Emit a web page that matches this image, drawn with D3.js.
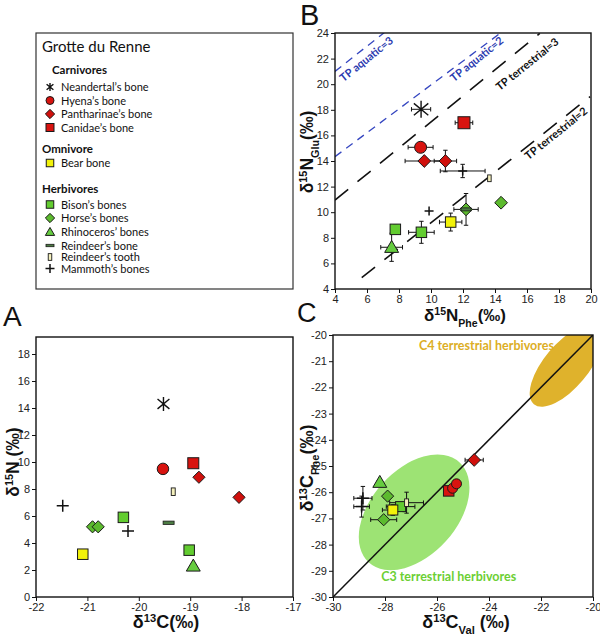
<!DOCTYPE html>
<html><head><meta charset="utf-8">
<script src="https://cdn.jsdelivr.net/npm/d3@7"></script>
<style>body{margin:0;background:#fff}</style>
</head><body><svg id="c" width="600" height="639"></svg>
<script>
// ---------------- DATA ----------------
// Legend
const legendSpecies = ['neandertal','hyena','pantharinae','canidae','bear','bison','horse','rhino','reindeerBone','reindeerTooth','mammoth'];
const legendLabels = ["Neandertal’s bone","Hyena’s bone","Pantharinae’s bone","Canidae’s bone","Bear bone","Bison’s bones","Horse’s bones","Rhinoceros’ bones","Reindeer’s bone","Reindeer’s tooth","Mammoth’s bones"];
const legendGroups = ['Carnivores','Omnivore','Herbivores'];

// Panel A: bulk collagen
const aSpecies = ['neandertal','hyena','canidae','pantharinae','pantharinae','reindeerTooth','mammoth','bison','reindeerBone','horse','horse','mammoth','bison','bear','rhino'];
const aD13C = [-19.52,-19.53,-18.94,-18.83,-18.05,-19.33,-21.48,-20.3,-19.42,-20.9,-20.79,-20.21,-19.02,-21.09,-18.94];
const aD15N = [14.3,9.49,9.91,8.87,7.38,7.8,6.76,5.9,5.5,5.2,5.2,4.88,3.47,3.17,2.3];
const aXTicks = [-22,-21,-20,-19,-18,-17];
const aYTicks = [0,2,4,6,8,10,12,14,16,18];

// Panel B: amino acid nitrogen
const bSpecies = ['neandertal','canidae','hyena','pantharinae','pantharinae','mammoth','reindeerTooth','horse','horse','reindeerBone','mammoth','bear','bison','bison','rhino'];
const bPhe = [9.38,12.06,9.35,9.58,10.9,11.98,13.65,14.38,12.19,12.19,9.88,11.23,9.4,7.77,7.54];
const bGlu = [18.04,16.99,15.07,14.0,14.0,13.22,12.65,10.74,10.22,10.22,10.09,9.23,8.43,8.66,7.26];
const bPheErr = [0.6,0.55,0.78,1.2,0.7,1.4,0,0,0.76,0,0,0.7,0.8,0,0.68];
const bGluErr = [0,0,0,0,0.84,0.52,0,0,1.24,0,0,0.7,0.86,0.35,1.1];
const bXTicks = [4,6,8,10,12,14,16,18,20];
const bYTicks = [4,6,8,10,12,14,16,18,20,22,24];
// Trophic position lines (endpoints in data units)
const tpNames = ['TP aquatic=3','TP aquatic=2','TP terrestrial=3','TP terrestrial=2'];
const tpKind = ['aquatic','aquatic','terrestrial','terrestrial'];
const tpX1 = [4,4,4,5.67];
const tpY1 = [21.0,14.34,10.95,4.88];
const tpX2 = [7.1,14.4,16.8,19.94];
const tpY2 = [24.05,24.05,23.97,19.03];
const tpLabelX = [6.0,12.9,16.05,17.85];
const tpLabelY = [21.9,21.9,21.5,16.1];

// Panel C: amino acid carbon
const cSpecies = ['mammoth','mammoth','rhino','horse','horse','bison','bear','reindeerTooth','canidae','hyena','hyena','pantharinae'];
const cVal = [-28.85,-28.9,-28.2,-27.9,-28.05,-27.4,-27.7,-27.17,-25.55,-25.4,-25.25,-24.57];
const cPhe = [-26.23,-26.55,-25.62,-26.15,-27.05,-26.55,-26.68,-26.4,-25.95,-25.85,-25.68,-24.77];
const cValErr = [0.35,0.3,0.1,0.15,0.5,0.55,0.4,0.65,0,0,0,0.35];
const cPheErr = [0.45,0.4,0.1,0.1,0.1,0.15,0.2,0.4,0,0,0,0.1];
const cXTicks = [-30,-28,-26,-24,-22,-20];
const cYTicks = [-30,-29,-28,-27,-26,-25,-24,-23,-22,-21,-20];
// Ellipses: [centerVal, centerPhe, semi-major, semi-minor (data units), angle deg]
const c3Ellipse = [-26.88,-26.77,2.6,1.65,48];
const c4Ellipse = [-21.04,-21.18,1.92,0.85,50];

// ---------------- STYLES ----------------
const STY = {
  neandertal:{shape:'asterisk'},
  hyena:{shape:'circle',fill:'#d8130f'},
  pantharinae:{shape:'diamond',fill:'#d0100c'},
  canidae:{shape:'square',fill:'#d8130f'},
  bear:{shape:'square',fill:'#f2f20a'},
  bison:{shape:'square',fill:'#62cc30'},
  horse:{shape:'diamond',fill:'#5cba2e'},
  rhino:{shape:'triangle',fill:'#66cc40'},
  reindeerBone:{shape:'dash',fill:'#4c7c43'},
  reindeerTooth:{shape:'tooth',fill:'#f4f0bc'},
  mammoth:{shape:'plus'}
};
const SANS = "'Liberation Sans', Arial, sans-serif";
const HUM = "Lato, 'Open Sans', sans-serif";

const svg = d3.select('#c');
svg.append('rect').attr('width',600).attr('height',639).attr('fill','#fff');

function marker(g, sp, cx, cy, s) {
  const st = STY[sp], k = st.shape, OUT = '#1a1a1a';
  if (k === 'square') g.append('rect').attr('x',cx-s/2).attr('y',cy-s/2).attr('width',s).attr('height',s).attr('fill',st.fill).attr('stroke',OUT).attr('stroke-width',1);
  else if (k === 'circle') g.append('circle').attr('cx',cx).attr('cy',cy).attr('r',s/2).attr('fill',st.fill).attr('stroke',OUT).attr('stroke-width',1);
  else if (k === 'diamond') { const h = s*0.58; g.append('path').attr('d',`M${cx},${cy-h}L${cx+h},${cy}L${cx},${cy+h}L${cx-h},${cy}Z`).attr('fill',st.fill).attr('stroke',OUT).attr('stroke-width',1); }
  else if (k === 'triangle') { const h = s*0.95, w = s*0.58; g.append('path').attr('d',`M${cx},${cy-h*0.6}L${cx+w},${cy+h*0.45}L${cx-w},${cy+h*0.45}Z`).attr('fill',st.fill).attr('stroke',OUT).attr('stroke-width',1); }
  else if (k === 'dash') g.append('rect').attr('x',cx-s/2).attr('y',cy-s*0.15).attr('width',s).attr('height',s*0.3).attr('fill',st.fill).attr('stroke',OUT).attr('stroke-width',0.8);
  else if (k === 'tooth') g.append('rect').attr('x',cx-s*0.22).attr('y',cy-s*0.42).attr('width',s*0.44).attr('height',s*0.84).attr('fill',st.fill).attr('stroke',OUT).attr('stroke-width',0.9);
  else if (k === 'plus') g.append('path').attr('d',`M${cx-s/2},${cy}H${cx+s/2}M${cx},${cy-s/2}V${cy+s/2}`).attr('stroke','#111').attr('stroke-width',1.5).attr('fill','none');
  else if (k === 'asterisk') { const h = s/2; g.append('path').attr('d',`M${cx},${cy-h}V${cy+h}M${cx-h*0.85},${cy-h*0.7}L${cx+h*0.85},${cy+h*0.7}M${cx+h*0.85},${cy-h*0.7}L${cx-h*0.85},${cy+h*0.7}`).attr('stroke','#111').attr('stroke-width',1.4).attr('fill','none'); }
}

function drawErr(g, x, y, xs, ys, ex, ey) {
  const c = 2.2, px = xs(x), py = ys(y);
  let d = '';
  if (ex > 0) { const a = xs(x-ex), b = xs(x+ex); d += `M${a},${py}H${b}M${a},${py-c}V${py+c}M${b},${py-c}V${py+c}`; }
  if (ey > 0) { const a = ys(y-ey), b = ys(y+ey); d += `M${px},${a}V${b}M${px-c},${a}H${px+c}M${px-c},${b}H${px+c}`; }
  if (d) g.append('path').attr('d',d).attr('stroke','#111').attr('stroke-width',1).attr('fill','none');
}

function richText(g, x, y, parts, size, rot) {
  const t = g.append('text').attr('transform',`translate(${x},${y}) rotate(${rot||0})`)
    .attr('text-anchor','middle').attr('font-family',SANS).attr('font-weight','bold').attr('font-size',size).attr('fill','#111');
  parts.forEach(p => {
    const ts = t.append('tspan').text(p[0]);
    if (p[1] === 'sup') ts.attr('baseline-shift','super').attr('font-size',size*0.62);
    if (p[1] === 'sub') ts.attr('baseline-shift','sub').attr('font-size',size*0.62);
  });
  return t;
}

function axes(g, xs, ys, xt, yt) {
  const ax = g.append('g').attr('transform',`translate(0,${ys.range()[0]})`)
    .call(d3.axisBottom(xs).tickValues(xt).tickSize(4).tickSizeOuter(0).tickPadding(2).tickFormat(d => String(d)));
  const ay = g.append('g').attr('transform',`translate(${xs.range()[0]},0)`)
    .call(d3.axisLeft(ys).tickValues(yt).tickSize(4).tickSizeOuter(0).tickPadding(2).tickFormat(d => String(d)));
  [ax, ay].forEach(a => {
    a.select('.domain').remove();
    a.selectAll('line').attr('stroke','#111');
    a.selectAll('text').attr('font-family',SANS).attr('font-size',11).attr('fill','#222');
  });
  g.append('rect').attr('x',xs.range()[0]).attr('y',ys.range()[1])
    .attr('width',xs.range()[1]-xs.range()[0]).attr('height',ys.range()[0]-ys.range()[1])
    .attr('fill','none').attr('stroke','#111').attr('stroke-width',1.4);
}

// ---------------- LEGEND ----------------
const lg = svg.append('g');
lg.append('rect').attr('x',36).attr('y',33).attr('width',257).attr('height',256).attr('fill','#fff').attr('stroke','#333').attr('stroke-width',1.2);
lg.append('text').attr('x',42).attr('y',52).attr('font-family',HUM).attr('font-size',15).attr('fill','#111').text('Grotte du Renne');
const groupPos = [[52,74],[42,153],[42,193]];
legendGroups.forEach((t,i) => lg.append('text').attr('x',groupPos[i][0]).attr('y',groupPos[i][1]).attr('font-family',HUM).attr('font-weight','bold').attr('font-size',11.5).attr('fill','#111').text(t));
const itemY = [87,100.5,114,127.5,163,204.5,218,232,245.5,257,268.5];
const legSize = {neandertal:8,hyena:8,pantharinae:8,canidae:8,bear:7.5,bison:7.5,horse:8,rhino:8,reindeerBone:8,reindeerTooth:8,mammoth:9};
legendSpecies.forEach((sp,i) => {
  marker(lg, sp, 50, itemY[i], legSize[sp]);
  lg.append('text').attr('x',61).attr('y',itemY[i]+4).attr('font-family',HUM).attr('font-size',11).attr('fill','#111').text(legendLabels[i]);
});

// ---------------- PANEL B ----------------
const gB = svg.append('g');
const xB = d3.scaleLinear().domain([4,20]).range([335,591]);
const yB = d3.scaleLinear().domain([4,24]).range([289,33]);
svg.append('clipPath').attr('id','clipB').append('rect').attr('x',335).attr('y',33).attr('width',256).attr('height',256);
const linesB = gB.append('g').attr('clip-path','url(#clipB)');
tpNames.forEach((n,i) => {
  const aq = tpKind[i] === 'aquatic';
  linesB.append('line').attr('x1',xB(tpX1[i])).attr('y1',yB(tpY1[i])).attr('x2',xB(tpX2[i])).attr('y2',yB(tpY2[i]))
    .attr('stroke', aq ? '#3546c0' : '#111').attr('stroke-width', aq ? 1.3 : 1.6)
    .attr('stroke-dasharray', aq ? '8,6' : '17,12');
});
const angB = -Math.atan((yB(4)-yB(5))/(xB(5)-xB(4)))*180/Math.PI;
tpNames.forEach((n,i) => {
  const aq = tpKind[i] === 'aquatic';
  gB.append('text').attr('transform',`translate(${xB(tpLabelX[i])},${yB(tpLabelY[i])}) rotate(${angB})`)
    .attr('text-anchor','middle').attr('dominant-baseline','middle').attr('font-family',HUM).attr('font-weight','bold').attr('font-size',11)
    .attr('fill', aq ? '#2b3bb0' : '#111').text(n);
});
const bSize = {neandertal:17,canidae:12,hyena:12,pantharinae:11,mammoth:9,reindeerTooth:8,horse:11,reindeerBone:10,bear:10.5,bison:10.5,rhino:12};
bSpecies.forEach((sp,i) => drawErr(gB, bPhe[i], bGlu[i], xB, yB, bPheErr[i], bGluErr[i]));
bSpecies.forEach((sp,i) => marker(gB, sp, xB(bPhe[i]), yB(bGlu[i]), bSize[sp]));
axes(gB, xB, yB, bXTicks, bYTicks);
richText(svg, 465, 321, [['δ'],['15','sup'],['N'],['Phe','sub'],['(‰)']], 17, 0);
richText(svg, 313, 152, [['δ'],['15','sup'],['N'],['Glu','sub'],['(‰)']], 17.5, -90);

// ---------------- PANEL A ----------------
const gA = svg.append('g');
const xA = d3.scaleLinear().domain([-22,-17]).range([36,293]);
const yA = d3.scaleLinear().domain([0,19.26]).range([597,337]);
axes(gA, xA, yA, aXTicks, aYTicks);
const aSize = {neandertal:14,hyena:11.5,canidae:11,pantharinae:10.5,reindeerTooth:9,mammoth:12,bison:10.5,reindeerBone:11,horse:10.5,bear:10.5,rhino:12};
aSpecies.forEach((sp,i) => marker(gA, sp, xA(aD13C[i]), yA(aD15N[i]), aSize[sp]));
richText(svg, 166, 628, [['δ'],['13','sup'],['C(‰)']], 18, 0);
richText(svg, 19, 462, [['δ'],['15','sup'],['N (‰)']], 17.5, -90);

// ---------------- PANEL C ----------------
const gC = svg.append('g');
const xC = d3.scaleLinear().domain([-30,-20]).range([333,593]);
const yC = d3.scaleLinear().domain([-30,-20]).range([597,335]);
svg.append('clipPath').attr('id','clipC').append('rect').attr('x',333).attr('y',335).attr('width',260).attr('height',262);
svg.append('clipPath').attr('id','clipCpanel').append('rect').attr('x',299).attr('y',295).attr('width',301).attr('height',344);
const ellG = gC.append('g').attr('clip-path','url(#clipC)');
const unit = xC(-29) - xC(-30);
[[c3Ellipse,'#9de374'],[c4Ellipse,'#dfb22c']].forEach(([e,col]) => {
  ellG.append('ellipse').attr('transform',`translate(${xC(e[0])},${yC(e[1])}) rotate(${-e[4]})`)
    .attr('rx',e[2]*unit).attr('ry',e[3]*unit).attr('fill',col);
});
ellG.append('line').attr('x1',xC(-30)).attr('y1',yC(-30)).attr('x2',xC(-20)).attr('y2',yC(-20)).attr('stroke','#111').attr('stroke-width',1.5);
gC.append('text').attr('x',xC(-24.1)).attr('y',yC(-20.58)).attr('text-anchor','middle').attr('font-family',HUM).attr('font-weight','bold').attr('font-size',12.5).attr('fill','#dcae25').text('C4 terrestrial herbivores');
gC.append('text').attr('x',xC(-25.55)).attr('y',yC(-29.38)).attr('text-anchor','middle').attr('font-family',HUM).attr('font-weight','bold').attr('font-size',12.5).attr('fill','#6ccf34').text('C3 terrestrial herbivores');
const cSize = {mammoth:12,rhino:12,horse:10.5,bison:10,bear:10,reindeerTooth:9,canidae:10.5,hyena:10,pantharinae:11};
cSpecies.forEach((sp,i) => drawErr(gC, cVal[i], cPhe[i], xC, yC, cValErr[i], cPheErr[i]));
cSpecies.forEach((sp,i) => marker(gC, sp, xC(cVal[i]), yC(cPhe[i]), cSize[sp]));
axes(gC, xC, yC, cXTicks, cYTicks);
richText(svg, 466, 628, [['δ'],['13','sup'],['C'],['Val','sub'],[' (‰)']], 18, 0);
const cyl = svg.append('g').attr('clip-path','url(#clipCpanel)');
richText(cyl, 313, 468, [['δ'],['13','sup'],['C'],['Phe','sub'],['(‰)']], 18, -90);

// ---------------- PANEL LETTERS ----------------
[['A',3,326,28],['B',300,25,29],['C',297,322,27]].forEach(([t,x,y,s]) =>
  svg.append('text').attr('x',x).attr('y',y).attr('font-family',SANS).attr('font-size',s).attr('fill','#111').text(t));
</script></body></html>
